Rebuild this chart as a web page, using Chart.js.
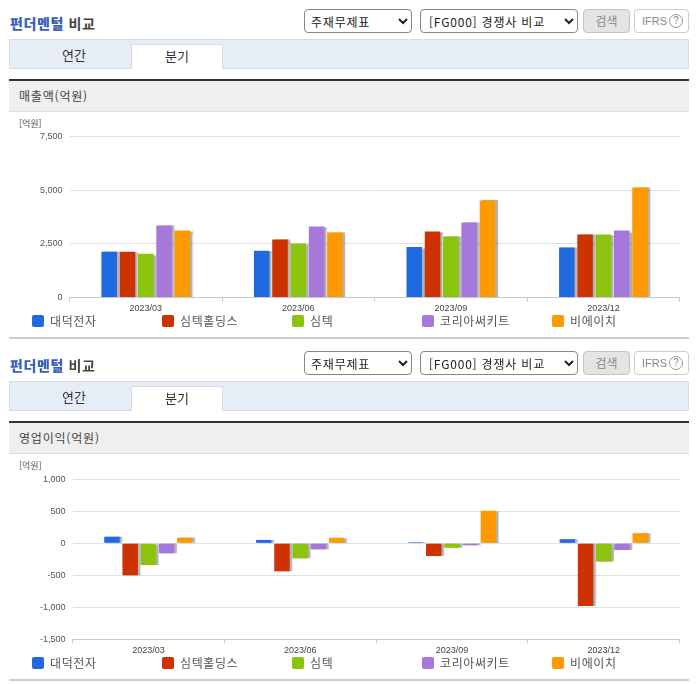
<!DOCTYPE html>
<html lang="ko">
<head>
<meta charset="utf-8">
<script src="https://cdn.jsdelivr.net/npm/chart.js@4"></script>
<style>
    html, body { margin: 0; padding: 0; background: #fff; }
    body { width: 696px; height: 684px; overflow: hidden; position: relative; font-family: "Noto Sans CJK KR", sans-serif; color: #333; }
    .panel { position: absolute; left: 0; top: 0; width: 696px; height: 342px; }
    .panel.second { top: 342px; }
    .panel > * { position: absolute; box-sizing: border-box; }
    .title { left: 10px; top: 13px; font-size: 14px; line-height: 20px; font-weight: 700; color: #444; letter-spacing: .6px; }
    .title b { color: #3a61b5; }
    select { top: 9px; height: 24px; font: 12px "Noto Sans CJK KR", sans-serif; letter-spacing: .8px; color: #222; background: #fff; border: 1px solid #888; border-radius: 4px; }
    .sel1 { left: 304px; width: 108px; padding-left: 2px; }
    .sel2 { left: 420px; width: 158px; padding-left: 4px; }
    .search { left: 583px; top: 9px; width: 47px; height: 24px; background: #e4e4e4; border: 1px solid #c4c4c4; border-radius: 4px; color: #888; font-size: 12px; line-height: 21px; text-align: center; }
    .ifrs { left: 634px; top: 9px; width: 55px; height: 24px; border: 1px solid #ccc; border-radius: 4px; color: #888; font: 11px/22px "Liberation Sans", sans-serif; padding-left: 7px; }
    .ifrs i { position: absolute; left: 34px; top: 4px; width: 14px; height: 14px; border: 1px solid #999; border-radius: 50%; box-sizing: border-box; font: 10px/12px "Liberation Sans", sans-serif; text-align: center; }
    .tabs { left: 9px; top: 39px; width: 680px; height: 30px; background: #e6edf7; border: 1px solid #d4dce8; }
    .tab { top: 44px; height: 25px; font-size: 13px; line-height: 22px; text-align: center; color: #333; }
    .tab1 { left: 14px; width: 120px; }
    .tab2 { left: 131px; width: 92px; background: #fff; border: 1px solid #d4dce8; border-bottom: 0; }
    .band { left: 9px; top: 79px; width: 680px; height: 33px; background: #efefef; border-top: 2px solid #333; border-bottom: 1px solid #ddd; font-size: 12px; line-height: 30px; padding-left: 10px; letter-spacing: .8px; color: #444; }
    .unit { left: 19px; top: 118px; font-size: 9px; line-height: 12px; color: #555; }
    canvas { left: 0; top: 115px; }
    .legend { left: 0; top: 313px; width: 696px; height: 18px; }
    .legend span { position: absolute; top: 0; font-size: 12px; line-height: 16px; letter-spacing: .6px; color: #555; padding-left: 18px; white-space: nowrap; }
    .legend span i { position: absolute; left: 0; top: 2px; width: 12px; height: 12px; border-radius: 2px; }
    .rule { left: 9px; top: 337px; width: 680px; height: 2px; background: #ccc; }
</style>
</head>
<body>
<div class="panel" id="panelSales"></div>
<div class="panel second" id="panelProfit"></div>
<script>
    const categories = ['2023/03', '2023/06', '2023/09', '2023/12'];
    const companies = ['대덕전자', '심텍홀딩스', '심텍', '코리아써키트', '비에이치'];
    const colors = ['#1f6ae0', '#cc3300', '#8cc30c', '#a678dc', '#ff9900'];

    // 매출액
    const salesDaeduck = [2135, 2180, 2355, 2325];
    const salesSimmtechHoldings = [2135, 2700, 3070, 2930];
    const salesSimmtech = [2040, 2510, 2840, 2930];
    const salesKoreaCircuit = [3350, 3305, 3490, 3120];
    const salesBH = [3120, 3025, 4520, 5130];

    // 영업이익
    const profitDaeduck = [104, 52, 15, 62];
    const profitSimmtechHoldings = [-500, -437, -198, -980];
    const profitSimmtech = [-339, -234, -68, -286];
    const profitKoreaCircuit = [-156, -94, -30, -104];
    const profitBH = [88, 88, 510, 156];

    const salesTicks = [0, 2500, 5000, 7500];
    const profitTicks = [-1500, -1000, -500, 0, 500, 1000];

    const legendLeft = [32, 162, 292, 422, 552];

    // 막대 그림자
    const barShadow = {
        id: 'barShadow',
        beforeDatasetDraw(chart) {
            const ctx = chart.ctx;
            ctx.save();
            ctx.shadowColor = 'rgba(0,0,0,0.3)';
            ctx.shadowOffsetX = 2.5;
            ctx.shadowOffsetY = 0;
            ctx.shadowBlur = 1;
        },
        afterDatasetDraw(chart) {
            chart.ctx.restore();
        }
    };

    function buildPanel(panel, label, canvasId) {
        let legend = '';
        companies.forEach((name, i) => {
            legend += `<span style="left:${legendLeft[i]}px"><i style="background:${colors[i]}"></i>${name}</span>`;
        });
        panel.innerHTML = `
            <div class="title"><b>펀더멘털</b> 비교</div>
            <select class="sel1"><option>주재무제표</option></select>
            <select class="sel2"><option>[FG000] 경쟁사 비교</option></select>
            <div class="search">검색</div>
            <div class="ifrs">IFRS<i>?</i></div>
            <div class="tabs"></div>
            <div class="tab tab1">연간</div>
            <div class="tab tab2">분기</div>
            <div class="band">${label}</div>
            <div class="unit">[억원]</div>
            <canvas id="${canvasId}" width="696" height="205" style="width:696px;height:205px"></canvas>
            <div class="legend">${legend}</div>
            <div class="rule"></div>`;
    }

    function drawChart(canvasId, seriesValues, ticks, axisLeft, plotTop, axisHeight) {
        new Chart(document.getElementById(canvasId), {
            type: 'bar',
            data: {
                labels: categories,
                datasets: seriesValues.map((values, i) => ({
                    label: companies[i],
                    data: values,
                    backgroundColor: colors[i]
                }))
            },
            plugins: [barShadow],
            options: {
                responsive: false,
                animation: false,
                categoryPercentage: 0.6,
                barPercentage: 0.85,
                layout: { padding: { top: plotTop, right: 16.3, bottom: 0, left: 0 } },
                plugins: { legend: { display: false }, tooltip: { enabled: false } },
                scales: {
                    x: {
                        afterFit(scale) { scale.height = axisHeight; },
                        border: { color: '#c2cad6' },
                        grid: { drawOnChartArea: false, tickLength: 4, color: '#c2cad6' },
                        ticks: { color: '#444', font: { size: 9, family: 'Liberation Sans' }, padding: 2, maxRotation: 0 }
                    },
                    y: {
                        min: ticks[0],
                        max: ticks[ticks.length - 1],
                        afterFit(scale) { scale.width = axisLeft; },
                        afterBuildTicks(scale) { scale.ticks = ticks.map(value => ({ value })); },
                        border: { display: false },
                        grid: { color: '#dde1e8', drawTicks: false },
                        ticks: {
                            color: '#555',
                            font: { size: 9, family: 'Liberation Sans' },
                            padding: 7,
                            callback: value => value.toLocaleString('en-US')
                        }
                    }
                }
            }
        });
    }

    buildPanel(document.getElementById('panelSales'), '매출액(억원)', 'salesChart');
    buildPanel(document.getElementById('panelProfit'), '영업이익(억원)', 'profitChart');

    drawChart('salesChart', [salesDaeduck, salesSimmtechHoldings, salesSimmtech, salesKoreaCircuit, salesBH], salesTicks, 69.5, 21.5, 22.5);
    drawChart('profitChart', [profitDaeduck, profitSimmtechHoldings, profitSimmtech, profitKoreaCircuit, profitBH], profitTicks, 72.5, 22.3, 22.7);
</script>
</body>
</html>
